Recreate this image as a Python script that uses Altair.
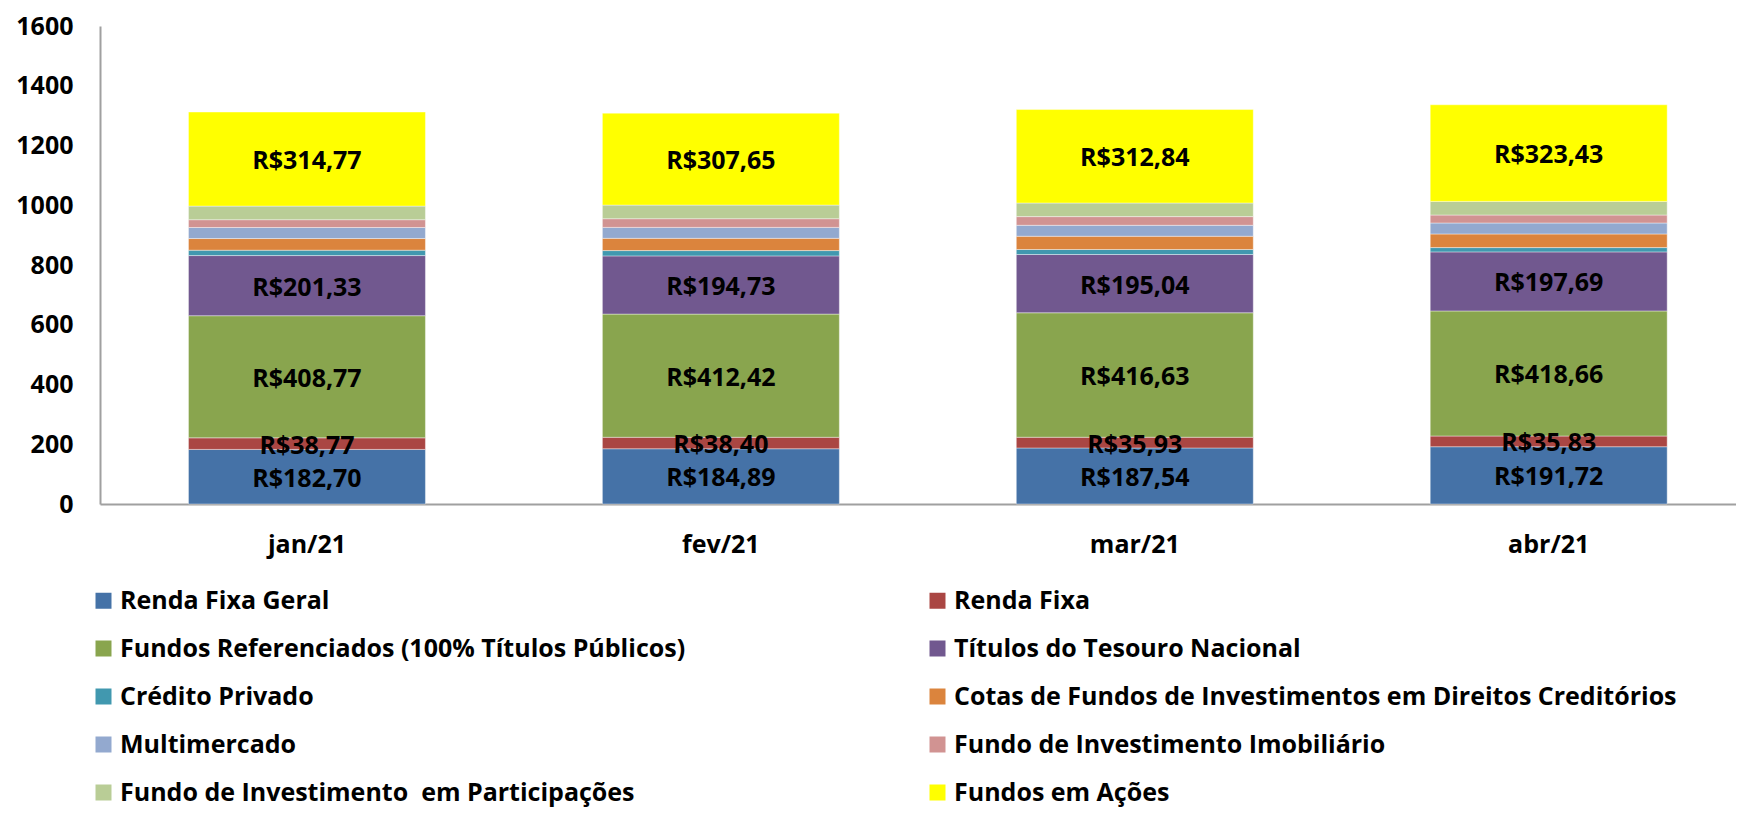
import altair as alt
import pandas as pd

months = ["jan/21", "fev/21", "mar/21", "abr/21"]
series = [
    "Renda Fixa Geral",
    "Renda Fixa",
    "Fundos Referenciados (100% Títulos Públicos)",
    "Títulos do Tesouro Nacional",
    "Crédito Privado",
    "Cotas de Fundos de Investimentos em Direitos Creditórios",
    "Multimercado",
    "Fundo de Investimento Imobiliário",
    "Fundo de Investimento\u00a0 em Participações",
    "Fundos em Ações",
]
colors = ["#4572A7", "#AA4643", "#89A54E", "#71588F", "#4198AF",
          "#DB843D", "#93A9CF", "#D19392", "#B9CD96", "#FFFF00"]

renda_fixa_geral = [182.70, 184.89, 187.54, 191.72]
renda_fixa = [38.77, 38.40, 35.93, 35.83]
fundos_ref = [408.77, 412.42, 416.63, 418.66]
titulos = [201.33, 194.73, 195.04, 197.69]
credito_privado = [18.0, 17.8, 16.7, 14.4]
fidc = [39.0, 41.0, 44.4, 45.6]
multimercado = [37.0, 36.7, 36.7, 36.7]
fii = [26.0, 29.0, 29.0, 26.7]
fip = [45.6, 45.6, 45.6, 45.6]
acoes = [314.77, 307.65, 312.84, 323.43]

values = [renda_fixa_geral, renda_fixa, fundos_ref, titulos, credito_privado,
          fidc, multimercado, fii, fip, acoes]
labeled = {0, 1, 2, 3, 9}

rows = []
for si, (s, vals) in enumerate(zip(series, values)):
    for m, v in zip(months, vals):
        lab = ("R$" + f"{v:.2f}".replace(".", ",")) if si in labeled else ""
        rows.append({"mes": m, "serie": s, "ordem": si, "valor": v, "rotulo": lab})
df = pd.DataFrame(rows)

FONT = "Open Sans"

x_scale = alt.Scale(paddingInner=0.4275, paddingOuter=0.19, align=0.5625)

x_enc = alt.X("mes:N", sort=months, scale=x_scale,
              axis=alt.Axis(title=None, labelAngle=0, labelFontSize=25,
                            labelFontWeight="bold", labelColor="black",
                            labelPadding=28, ticks=False, domainColor="#A0A0A0",
                            domainWidth=2))

bars = alt.Chart(df).mark_bar(stroke="white", strokeWidth=0.4).encode(
    x=x_enc,
    y=alt.Y("valor:Q", stack="zero",
            scale=alt.Scale(domain=[0, 1600], nice=False),
            axis=alt.Axis(title=None, values=list(range(0, 1601, 200)),
                          format="d", grid=False, ticks=False, labelFontSize=25,
                          labelFontWeight="bold", labelColor="black",
                          labelPadding=27, domainColor="#A0A0A0", domainWidth=2)),
    color=alt.Color("serie:N", sort=series,
                    scale=alt.Scale(domain=series, range=colors),
                    legend=alt.Legend(title=None, orient="none", columns=2,
                                      legendX=-9, legendY=562,
                                      direction="horizontal",
                                      columnPadding=239, rowPadding=22,
                                      symbolType="square", symbolSize=256,
                                      symbolStrokeWidth=0, labelFontSize=25,
                                      labelFontWeight="bold", labelColor="black",
                                      labelFont=FONT, labelOffset=4,
                                      labelLimit=0, padding=0)),
    order=alt.Order("ordem:Q", sort="ascending"),
)

labels = alt.Chart(df).transform_stack(
    stack="valor", groupby=["mes"], as_=["y0", "y1"],
    sort=[alt.SortField("ordem", order="ascending")]
).transform_calculate(
    mid="(datum.y0 + datum.y1) / 2"
).transform_filter(
    "datum.rotulo != ''"
).mark_text(font=FONT, fontSize=25, fontWeight="bold", color="black",
            baseline="middle", align="center", dy=2).encode(
    x=alt.X("mes:N", sort=months, scale=x_scale),
    y=alt.Y("mid:Q"),
    text="rotulo:N",
)

chart = alt.layer(bars, labels).properties(
    width=1636, height=478,
    padding={"left": 92, "top": 18, "right": 0, "bottom": 303},
    autosize=alt.AutoSizeParams(type="none"),
).configure(font=FONT).configure_view(stroke=None)

chart.save("out.html", embed_options={"renderer": "svg", "actions": False})
